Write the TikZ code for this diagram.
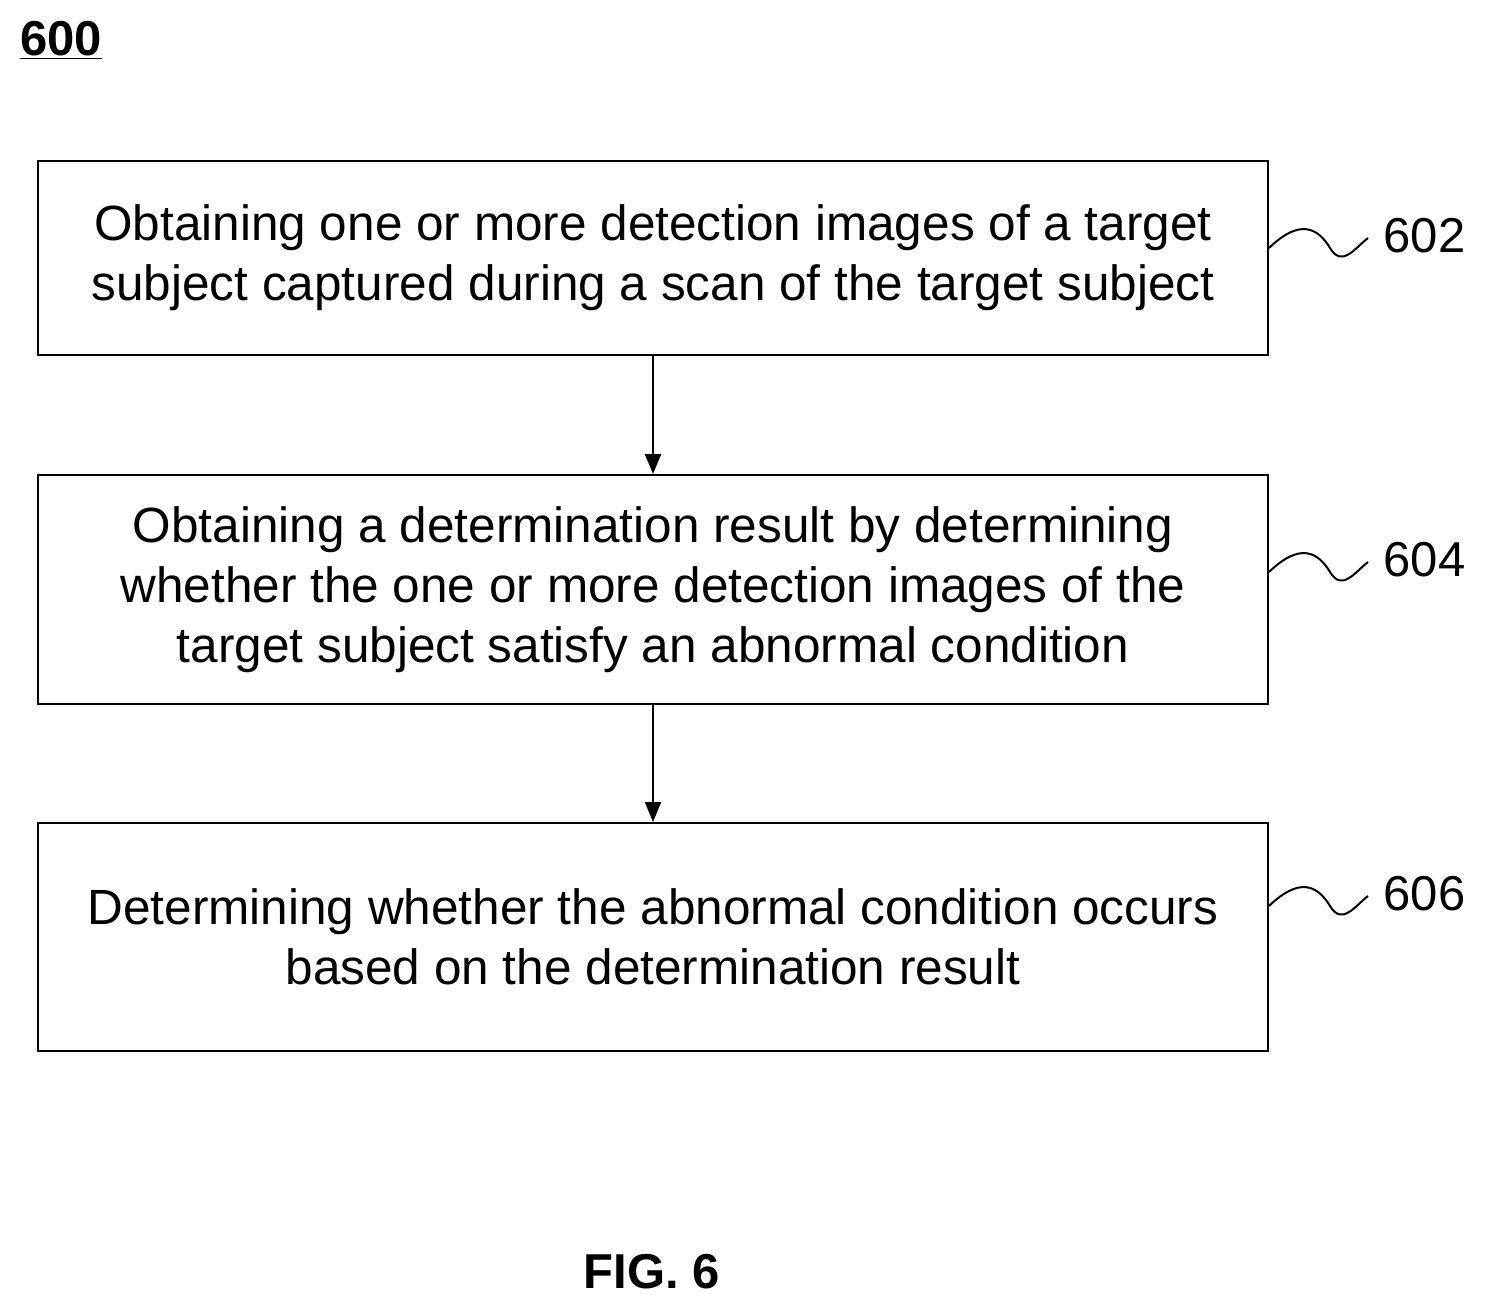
\documentclass[tikz,border=0pt]{standalone}
\usepackage{fontspec}
\setmainfont{Liberation Sans}
\usetikzlibrary{arrows.meta}
\begin{document}
\begin{tikzpicture}[x=1pt,y=-1pt,
  box/.style={draw,line width=2pt,minimum width=1230pt,align=center,font=\fontsize{49.5}{60}\selectfont,anchor=north west,inner sep=0pt},
  arr/.style={-{Triangle[length=20pt,width=16pt]},line width=2pt},
  sq/.style={line width=2pt},
  lab/.style={font=\fontsize{49}{50}\selectfont}]
\useasboundingbox (0,0) rectangle (1487,1310);
\node[font=\bfseries\fontsize{49}{52}\selectfont] (t) at (61,40) {\underline{600}};
\node[box,minimum height=194pt] (b1) at (37,160) {\rule{0pt}{0pt}\raisebox{-5pt}{}Obtaining one or more detection images of a target\\subject captured during a scan of the target subject};
\node[box,minimum height=229pt] (b2) at (37,474) {Obtaining a determination result by determining\\whether the one or more detection images of the\\target subject satisfy an abnormal condition};
\node[box,minimum height=228pt] (b3) at (37,822) {Determining whether the abnormal condition occurs\\based on the determination result};
\draw[arr] (b1.south) -- (b2.north);
\draw[arr] (b2.south) -- (b3.north);
\foreach \b/\y/\n in {b1/248/602,b2/572/604,b3/906/606}{
  \coordinate (s\n) at (1368,\y-10);
  \draw[sq] (\b.east|-0,\y) .. controls (1300,\y-30) and (1318,\y-20) .. (1330,\y) .. controls (1342,\y+20) and (1355,\y) .. (s\n);
  \node[lab,anchor=west] (l\n) at (1380,\y-12) {\n};
}
\node[font=\bfseries\fontsize{49}{52}\selectfont] (fig) at (652,1272) {FIG. 6};
\end{tikzpicture}
\end{document}
